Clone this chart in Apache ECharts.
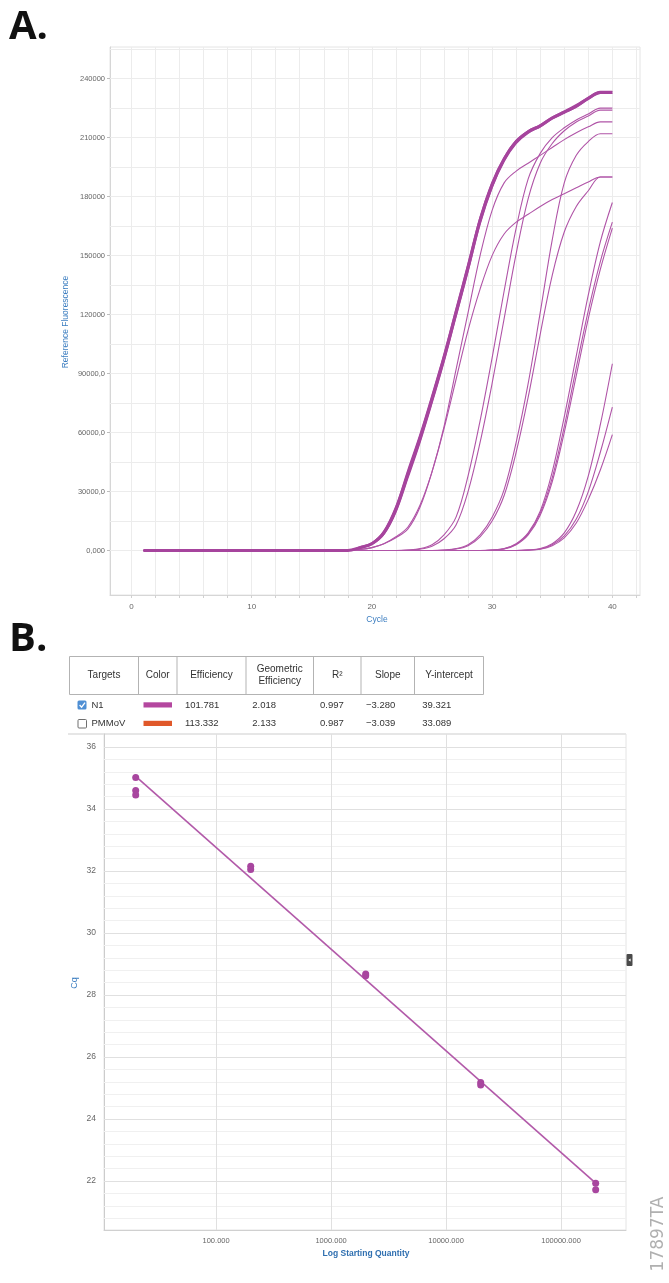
<!DOCTYPE html>
<html><head><meta charset="utf-8">
<script src="https://cdn.jsdelivr.net/npm/echarts@6/dist/echarts.min.js"></script>
<style>html,body{margin:0;padding:0;background:#fff}#c{width:669px;height:1283px}</style>
</head><body><div id="c"></div>
<script>
// ---------- Panel A data (amplification curves, RFU per cycle 1..40) ----------
const cycles = [1,2,3,4,5,6,7,8,9,10,11,12,13,14,15,16,17,18,19,20,21,22,23,24,25,26,27,28,29,30,31,32,33,34,35,36,37,38,39,40];
const n1Thick1 = [0,0,0,0,0,0,0,0,0,0, 0,0,0,0,0,0,0,0, 1500,3500,9000,21000,39000,57000,77000,98000,121000,144000,168000,186000,199000,208000,213000,216000,220000,223000,226000,230000,233000,233000];
const n1Thick2 = [0,0,0,0,0,0,0,0,0,0, 0,0,0,0,0,0,0,0, 1200,3100,8200,19500,37000,55000,75000,96000,119000,142000,166000,184500,198000,207000,212300,215500,219500,222500,225500,229500,232500,232500];
const n1Thick3 = [0,0,0,0,0,0,0,0,0,0, 0,0,0,0,0,0,0,0, 1800,3900,10000,22500,41000,59000,79000,100000,123000,146000,169500,187500,200000,208500,213500,216500,220500,223500,226800,230500,233500,233500];
const n1LineA  = [0,0,0,0,0,0,0,0,0,0, 0,0,0,0,0,0,0,0, 500,1500,3500,6500,11000,22000,40000,63000,92000,121000,150000,173000,187000,193000,197000,201000,205000,209000,212500,215500,218000,218000];
const n1LineB  = [0,0,0,0,0,0,0,0,0,0, 0,0,0,0,0,0,0,0, 500,1500,3500,7000,12000,23000,40000,62000,87000,112000,133000,150000,161000,167000,171000,175000,178500,181500,184500,187500,190000,190000];
const n1Grp2a  = [0,0,0,0,0,0,0,0,0,0, 0,0,0,0,0,0,0,0,0,0, 0,0, 300,1000,3000,8000,17000,38000,66000,98000,132000,164000,189000,202000,210000,215000,219000,222000,225000,225000];
const n1Grp2b  = [0,0,0,0,0,0,0,0,0,0, 0,0,0,0,0,0,0,0,0,0, 0,0, 200,700,2200,6000,13000,30000,55000,85000,118000,151000,179000,197000,207000,213500,218000,221000,224000,224000];
const n1Grp3a  = [0,0,0,0,0,0,0,0,0,0, 0,0,0,0,0,0,0,0,0,0, 0,0,0,0,0, 300,1000,3000,8000,17000,31000,55000,85000,121000,158000,187000,201000,208000,212000,212000];
const n1Grp3b  = [0,0,0,0,0,0,0,0,0,0, 0,0,0,0,0,0,0,0,0,0, 0,0,0,0,0, 200,800,2500,7000,15000,28000,50000,78000,110000,140000,162000,175000,183000,190000,190000];
const n1Grp4a  = [0,0,0,0,0,0,0,0,0,0, 0,0,0,0,0,0,0,0,0,0, 0,0,0,0,0,0,0,0,0, 300,1000,3500,9000,20000,40000,68000,99000,130000,157000,177000];
const n1Grp4b  = [0,0,0,0,0,0,0,0,0,0, 0,0,0,0,0,0,0,0,0,0, 0,0,0,0,0,0,0,0,0, 300,900,3200,8500,19000,37000,63000,93000,122000,147000,167000];
const n1Grp4c  = [0,0,0,0,0,0,0,0,0,0, 0,0,0,0,0,0,0,0,0,0, 0,0,0,0,0,0,0,0,0, 200,800,3000,8000,18000,35000,60000,89000,118000,143000,164000];
const n1Grp5a  = [0,0,0,0,0,0,0,0,0,0, 0,0,0,0,0,0,0,0,0,0, 0,0,0,0,0,0,0,0,0,0, 0,0, 300,1000,3500,9000,20000,38000,64000,95000];
const n1Grp5b  = [0,0,0,0,0,0,0,0,0,0, 0,0,0,0,0,0,0,0,0,0, 0,0,0,0,0,0,0,0,0,0, 0,0, 200,800,3000,7500,16000,30000,50000,73000];
const n1Grp5c  = [0,0,0,0,0,0,0,0,0,0, 0,0,0,0,0,0,0,0,0,0, 0,0,0,0,0,0,0,0,0,0, 0,0, 200,700,2500,6500,14000,26000,41000,59000];

const thickCurves = [n1Thick2, n1Thick3, n1Thick1];
const thinCurves = [n1LineA, n1LineB, n1Grp2a, n1Grp2b, n1Grp3a, n1Grp3b, n1Grp4a, n1Grp4b, n1Grp4c, n1Grp5a, n1Grp5b, n1Grp5c];

const xLabelCyclesA = [0, 10, 20, 30, 40];
const xTickCyclesA = [0,2,4,6,8,10,12,14,16,18,20,22,24,26,28,30,32,34,36,38,40,42];
const yTickValuesA = [0, 30000, 60000, 90000, 120000, 150000, 180000, 210000, 240000];
const yTickLabelsA = ['0,000', '30000,0', '60000,0', '90000,0', '120000', '150000', '180000', '210000', '240000'];
const yGridA = [0,15000,30000,45000,60000,75000,90000,105000,120000,135000,150000,165000,180000,195000,210000,225000,240000,255000];

// ---------- Panel B data (standard curve) ----------
const stdQuantity = [20, 20, 20, 200, 200, 2000, 2000, 20000, 20000, 200000, 200000];
const stdCq       = [35.02, 34.60, 34.45, 32.15, 32.05, 28.68, 28.62, 25.18, 25.10, 21.93, 21.72];
const fitQuantity = [20, 200000];
const fitCq       = [35.05, 21.93];
const xLabelValuesB = [100, 1000, 10000, 100000];
const xLabelTextsB  = ['100.000', '1000.000', '10000.000', '100000.000'];
const yLabelValuesB = [22, 24, 26, 28, 30, 32, 34, 36];
const yMinorGridB = [20.8,21.2,21.6,22.0,22.4,22.8,23.2,23.6,24.0,24.4,24.8,25.2,25.6,26.0,26.4,26.8,27.2,27.6,28.0,28.4,28.8,29.2,29.6,30.0,30.4,30.8,31.2,31.6,32.0,32.4,32.8,33.2,33.6,34.0,34.4,34.8,35.2,35.6,36.0];

// ---------- Table ----------
const tableHeaders = ['Targets', 'Color', 'Efficiency', ['Geometric', 'Efficiency'], 'R²', 'Slope', 'Y-intercept'];
const targets = ['N1', 'PMMoV'];
const targetChecked = [true, false];
const targetColors = ['#b4479f', '#e0582a'];
const efficiency = ['101.781', '113.332'];
const geoEfficiency = ['2.018', '2.133'];
const rSquared = ['0.997', '0.987'];
const slopes = ['\u22123.280', '\u22123.039'];
const intercepts = ['39.321', '33.089'];

// ---------- build ----------
const FONT = '"Liberation Sans", Arial, sans-serif';
const BLUE = '#3b7dc0';
const CURVE = '#a6449d';
const chart = echarts.init(document.getElementById('c'), null, {renderer: 'canvas'});
const toPairs = ys => cycles.map((c, i) => [c, ys[i]]);

const series = [];
// gridlines panel A
series.push({
  type: 'line', xAxisIndex: 0, yAxisIndex: 0, data: [], z: 1, silent: true,
  markLine: {
    silent: true, z: 1, symbol: ['none', 'none'], animation: false, label: {show: false},
    emphasis: {disabled: true},
    lineStyle: {color: '#ececec', width: 1, type: 'solid'},
    data: xTickCyclesA.map(v => ({xAxis: v})).concat(yGridA.map(v => ({yAxis: v})))
  }
});
thinCurves.forEach(d => series.push({
  type: 'line', xAxisIndex: 0, yAxisIndex: 0, data: toPairs(d), showSymbol: false,
  smooth: 0.35, lineStyle: {width: 1.1, color: '#b054a7'}, z: 3, animation: false, silent: true
}));
thickCurves.forEach((d, i) => series.push({
  type: 'line', xAxisIndex: 0, yAxisIndex: 0, data: toPairs(d), showSymbol: false,
  smooth: 0.35, lineStyle: {width: i === 2 ? 3 : 1.4, color: CURVE}, z: 4, animation: false, silent: true
}));
// gridlines panel B
series.push({
  type: 'line', xAxisIndex: 1, yAxisIndex: 1, data: [], z: 1, silent: true,
  markLine: {
    silent: true, z: 1, symbol: ['none', 'none'], animation: false, label: {show: false},
    emphasis: {disabled: true},
    lineStyle: {color: '#efefef', width: 1, type: 'solid'},
    data: yMinorGridB.map(v => ({yAxis: v, lineStyle: {color: (Math.abs(v - Math.round(v)) < 1e-6 && Math.round(v) % 2 === 0) ? '#e0e0e0' : '#f0f0f0'}}))
      .concat(xLabelValuesB.map(v => ({xAxis: v, lineStyle: {color: '#e0e0e0'}})))
  }
});
series.push({
  type: 'line', xAxisIndex: 1, yAxisIndex: 1, data: fitQuantity.map((q, i) => [q, fitCq[i]]),
  showSymbol: false, lineStyle: {width: 1.6, color: '#b25aa9'}, z: 3, animation: false, silent: true
});
series.push({
  type: 'scatter', xAxisIndex: 1, yAxisIndex: 1, data: stdQuantity.map((q, i) => [q, stdCq[i]]),
  symbolSize: 7, itemStyle: {color: '#a8469f', opacity: 1}, z: 4, animation: false, silent: true
});

// graphics
const g = [];
const txt = (x, y, text, o = {}) => g.push({
  type: 'text', x: x, y: y, silent: true, rotation: o.rot || 0, z: 10,
  style: {text: text, x: 0, y: 0, fill: o.color || '#333', font: o.font || ('10px ' + FONT),
    textAlign: o.align || 'center', textVerticalAlign: o.valign || 'middle'}
});
txt(9, 28, 'A.', {font: 'bold 40px "Open Sans"', color: '#111', align: 'left'});
txt(9, 640, 'B.', {font: 'bold 40px "Open Sans"', color: '#111', align: 'left'});
txt(66, 322, 'Reference Fluorescence', {font: '8.5px ' + FONT, color: BLUE, rot: Math.PI / 2});
txt(377, 620, 'Cycle', {font: '8.5px ' + FONT, color: BLUE});
txt(75, 983, 'Cq', {font: '9px ' + FONT, color: BLUE, rot: Math.PI / 2});
txt(366, 1254, 'Log Starting Quantity', {font: 'bold 8.5px ' + FONT, color: '#2f6fb0'});
txt(659, 1234, '17897TA', {font: '17px "DejaVu Sans"', color: '#b0b0b0', rot: Math.PI / 2});

// table header
const colX = [69.5, 138.5, 177, 246, 313.5, 361, 414.5, 483.5];
g.push({type: 'rect', silent: true, shape: {x: 69.5, y: 656.5, width: 414, height: 38}, style: {fill: '#fff', stroke: '#b3b3b3', lineWidth: 1}});
for (let i = 1; i < colX.length - 1; i++) {
  g.push({type: 'line', silent: true, shape: {x1: colX[i], y1: 656.5, x2: colX[i], y2: 694.5}, style: {stroke: '#b3b3b3', lineWidth: 1}});
}
tableHeaders.forEach((h, i) => {
  const cx = (colX[i] + colX[i + 1]) / 2;
  if (Array.isArray(h)) {
    txt(cx, 669.5, h[0], {font: '10px ' + FONT, color: '#333'});
    txt(cx, 681.5, h[1], {font: '10px ' + FONT, color: '#333'});
  } else {
    txt(cx, 675, h, {font: '10px ' + FONT, color: '#333'});
  }
});
const rowY = [705, 723.5];
targets.forEach((t, r) => {
  const y = rowY[r];
  if (targetChecked[r]) {
    g.push({type: 'rect', silent: true, shape: {x: 77.5, y: y - 4.5, width: 9, height: 9, r: 1.5}, style: {fill: '#4f8fd4'}});
    g.push({type: 'polyline', silent: true, shape: {points: [[79.6, y], [81.6, y + 2.2], [85, y - 2.4]]}, style: {stroke: '#fff', lineWidth: 1.3, fill: null}});
  } else {
    g.push({type: 'rect', silent: true, shape: {x: 78, y: y - 4, width: 8.5, height: 8.5, r: 1}, style: {fill: '#fff', stroke: '#6f6f6f', lineWidth: 1}});
  }
  txt(91.5, y, t, {font: '9.5px ' + FONT, align: 'left'});
  g.push({type: 'rect', silent: true, shape: {x: 143.5, y: y - 2.7, width: 28.5, height: 5.2}, style: {fill: targetColors[r]}});
  txt(185, y, efficiency[r], {font: '9.5px ' + FONT, align: 'left'});
  txt(252.3, y, geoEfficiency[r], {font: '9.5px ' + FONT, align: 'left'});
  txt(320, y, rSquared[r], {font: '9.5px ' + FONT, align: 'left'});
  txt(366, y, slopes[r], {font: '9.5px ' + FONT, align: 'left'});
  txt(422.3, y, intercepts[r], {font: '9.5px ' + FONT, align: 'left'});
});
// top band of panel B frame
g.push({type: 'line', silent: true, shape: {x1: 68, y1: 734, x2: 626, y2: 734}, style: {stroke: '#e6e6e6', lineWidth: 2}});
// side toggle icon
g.push({type: 'rect', silent: true, shape: {x: 626.5, y: 954, width: 6, height: 12, r: 1}, style: {fill: '#4a4a4a'}});
g.push({type: 'polygon', silent: true, shape: {points: [[628.3, 960], [630.6, 958.4], [630.6, 961.6]]}, style: {fill: '#fff'}});

const option = {
  animation: false,
  backgroundColor: '#fff',
  grid: [
    {left: 110, top: 47, width: 530, height: 548, show: true, borderColor: '#e4e4e4', borderWidth: 1, backgroundColor: 'transparent'},
    {left: 104, top: 734, width: 522, height: 496, show: true, borderColor: '#e4e4e4', borderWidth: 1, backgroundColor: 'transparent'}
  ],
  xAxis: [
    {type: 'value', gridIndex: 0, min: -1.78, max: 42.3,
      axisLine: {show: true, onZero: false, lineStyle: {color: '#d6d6d6'}},
      axisTick: {show: true, customValues: xTickCyclesA, length: 3, lineStyle: {color: '#d0d0d0'}},
      axisLabel: {customValues: xLabelCyclesA, fontSize: 8, color: '#666', margin: 8, fontFamily: FONT},
      splitLine: {show: false}},
    {type: 'log', gridIndex: 1, logBase: 10, min: 10.6, max: 367000,
      axisLine: {show: true, onZero: false, lineStyle: {color: '#d0d0d0'}},
      axisTick: {show: false},
      axisLabel: {customValues: xLabelValuesB, fontSize: 7.5, color: '#666', margin: 7, fontFamily: FONT,
        formatter: v => { const i = xLabelValuesB.findIndex(x => Math.abs(x - v) / x < 1e-6); return i >= 0 ? xLabelTextsB[i] : ''; }},
      splitLine: {show: false}, minorSplitLine: {show: false}}
  ],
  yAxis: [
    {type: 'value', gridIndex: 0, min: -22600, max: 256100,
      axisLine: {show: true, onZero: false, lineStyle: {color: '#d6d6d6'}},
      axisTick: {show: true, customValues: yTickValuesA, length: 3, lineStyle: {color: '#bdbdbd'}},
      axisLabel: {customValues: yTickValuesA, fontSize: 7.5, color: '#666', margin: 5, fontFamily: FONT,
        formatter: v => { const i = yTickValuesA.indexOf(v); return i >= 0 ? yTickLabelsA[i] : ''; }},
      splitLine: {show: false}},
    {type: 'value', gridIndex: 1, min: 20.42, max: 36.42,
      axisLine: {show: true, onZero: false, lineStyle: {color: '#cccccc'}},
      axisTick: {show: false},
      axisLabel: {customValues: yLabelValuesB, fontSize: 8.5, color: '#666', margin: 8, fontFamily: FONT},
      splitLine: {show: false}}
  ],
  series: series,
  graphic: {elements: g}
};
chart.setOption(option);
</script></body></html>
